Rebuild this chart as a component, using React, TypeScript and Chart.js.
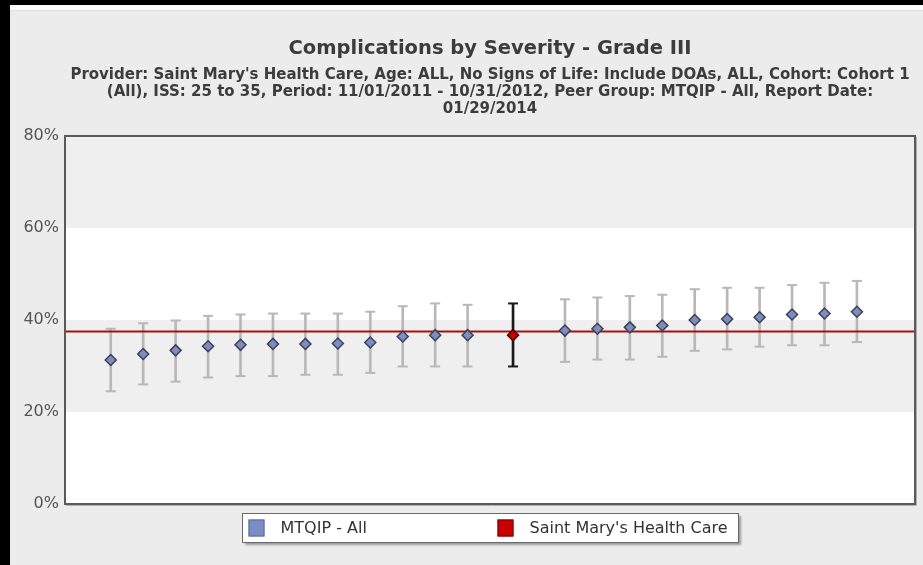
import React, { useEffect, useRef } from "react";
import { Chart, registerables } from "chart.js";

Chart.register(...registerables);

const chartTitle = "Complications by Severity - Grade III";
const subtitleLines = [
  "Provider: Saint Mary's Health Care, Age: ALL, No Signs of Life: Include DOAs, ALL, Cohort: Cohort 1",
  "(All), ISS: 25 to 35, Period: 11/01/2011 - 10/31/2012, Peer Group: MTQIP - All, Report Date:",
  "01/29/2014",
];
const peerLabel = "MTQIP - All";
const providerLabel = "Saint Mary's Health Care";

// rank positions of the peer hospitals (gap around the provider)
const peerRanks = [0, 1, 2, 3, 4, 5, 6, 7, 8, 9, 10, 11, 14, 15, 16, 17, 18, 19, 20, 21, 22, 23];
const peerRates = [31.3, 32.6, 33.4, 34.3, 34.6, 34.8, 34.8, 34.9, 35.1, 36.4, 36.7, 36.7, 37.7, 38.1, 38.4, 38.8, 40.0, 40.2, 40.6, 41.2, 41.4, 41.8];
const peerUpper = [38.1, 39.3, 39.9, 40.9, 41.2, 41.4, 41.4, 41.4, 41.8, 43.0, 43.6, 43.3, 44.5, 44.9, 45.2, 45.5, 46.7, 47.0, 47.0, 47.6, 48.1, 48.5];
const peerLower = [24.5, 26.0, 26.6, 27.5, 27.8, 27.8, 28.1, 28.1, 28.5, 29.9, 29.9, 29.9, 30.9, 31.4, 31.4, 32.0, 33.3, 33.6, 34.2, 34.5, 34.5, 35.2];

const providerRank = 12.4;
const providerRate = 36.7;
const providerUpper = 43.6;
const providerLower = 29.9;

const referenceRate = 37.5;

const rankMin = -1.41;
const rankMax = 24.79;
const yMin = 0;
const yMax = 80;
const yStep = 20;
const shadedBands = [
  [20, 40],
  [60, 80],
];

const PEER_FILL = "#7b8dc4";
const PROVIDER_FILL = "#c80000";

const backgroundPlugin = {
  id: "bandsAndFrame",
  beforeDraw(chart: any) {
    const { ctx, chartArea, scales } = chart;
    const y = scales.y;
    ctx.save();
    ctx.fillStyle = "#ffffff";
    ctx.fillRect(chartArea.left, chartArea.top, chartArea.right - chartArea.left, chartArea.bottom - chartArea.top);
    ctx.fillStyle = "#efefef";
    shadedBands.forEach(([a, b]) => {
      const y1 = y.getPixelForValue(b);
      const y2 = y.getPixelForValue(a);
      ctx.fillRect(chartArea.left, y1, chartArea.right - chartArea.left, y2 - y1);
    });
    ctx.restore();
  },
  afterDatasetsDraw(chart: any) {
    const { ctx, chartArea } = chart;
    ctx.save();
    ctx.strokeStyle = "#b0b0b0";
    ctx.lineWidth = 1;
    ctx.beginPath();
    ctx.moveTo(chartArea.right + 1.5, chartArea.top + 1);
    ctx.lineTo(chartArea.right + 1.5, chartArea.bottom + 1.5);
    ctx.lineTo(chartArea.left + 1, chartArea.bottom + 1.5);
    ctx.stroke();
    ctx.strokeStyle = "#5a5a5a";
    ctx.lineWidth = 2;
    ctx.strokeRect(chartArea.left, chartArea.top, chartArea.right - chartArea.left, chartArea.bottom - chartArea.top);
    ctx.restore();
  },
};

const legendPlugin = {
  id: "boxLegend",
  afterDraw(chart: any) {
    const { ctx, chartArea } = chart;
    const items = chart.data.datasets.filter((d: any) => d.legendItem);
    const cx = (chartArea.left + chartArea.right) / 2;
    const w = 496;
    const h = 29;
    const left = Math.round(cx - w / 2) + 0.5;
    const top = Math.round(chartArea.bottom + 9) + 0.5;
    ctx.save();
    ctx.shadowColor = "rgba(0,0,0,0.35)";
    ctx.shadowOffsetX = 2;
    ctx.shadowOffsetY = 2;
    ctx.shadowBlur = 2;
    ctx.fillStyle = "#ffffff";
    ctx.fillRect(left, top, w, h);
    ctx.shadowColor = "transparent";
    ctx.strokeStyle = "#6a6a6a";
    ctx.lineWidth = 1;
    ctx.strokeRect(left, top, w, h);
    const offsets = [6, 255];
    items.forEach((d: any, i: number) => {
      const bx = left + offsets[i];
      const by = top + 6;
      ctx.fillStyle = d.backgroundColor;
      ctx.fillRect(bx, by, 16, 17);
      ctx.strokeStyle = d.legendBorder;
      ctx.strokeRect(bx + 0.5, by + 0.5, 15, 16);
      ctx.fillStyle = "#333333";
      ctx.font = "16px 'DejaVu Sans', Verdana, sans-serif";
      ctx.textBaseline = "middle";
      ctx.textAlign = "left";
      ctx.fillText(d.label, bx + 32, top + h / 2 + 0.5);
    });
    ctx.restore();
  },
};

export default function App() {
  const canvasRef = useRef<HTMLCanvasElement | null>(null);

  useEffect(() => {
    const canvas = canvasRef.current;
    if (!canvas) return;

    const peerWhiskers = peerRanks.map((x, i) => ({ x, y: [peerLower[i], peerUpper[i]] }));
    const peerCaps = peerRanks.flatMap((x, i) => [
      { x, y: peerLower[i] },
      { x, y: peerUpper[i] },
    ]);
    const peerPoints = peerRanks.map((x, i) => ({ x, y: peerRates[i] }));

    const chart = new Chart(canvas, {
      type: "scatter",
      data: {
        datasets: [
          {
            type: "bar",
            label: "peer-range",
            data: peerWhiskers as any,
            backgroundColor: "#b8b8b8",
            borderWidth: 0,
            barThickness: 2,
            grouped: false,
            order: 4,
          } as any,
          {
            type: "bar",
            label: "provider-range",
            data: [{ x: providerRank, y: [providerLower, providerUpper] }] as any,
            backgroundColor: "#1a1a1a",
            borderWidth: 0,
            barThickness: 2,
            grouped: false,
            order: 4,
          } as any,
          {
            type: "scatter",
            label: "peer-caps",
            data: peerCaps,
            pointStyle: "line",
            pointRadius: 5,
            borderWidth: 2,
            borderColor: "#b8b8b8",
            order: 3,
          } as any,
          {
            type: "scatter",
            label: "provider-caps",
            data: [
              { x: providerRank, y: providerLower },
              { x: providerRank, y: providerUpper },
            ],
            pointStyle: "line",
            pointRadius: 5,
            borderWidth: 2,
            borderColor: "#1a1a1a",
            order: 3,
          } as any,
          {
            type: "line",
            label: "reference",
            data: [
              { x: rankMin, y: referenceRate },
              { x: rankMax, y: referenceRate },
            ],
            borderColor: "#a81010",
            borderWidth: 2,
            pointRadius: 0,
            order: 2,
          } as any,
          {
            type: "scatter",
            label: peerLabel,
            data: peerPoints,
            pointStyle: "rectRot",
            pointRadius: 5.5,
            backgroundColor: PEER_FILL,
            borderColor: "#3c4150",
            borderWidth: 1.5,
            order: 1,
            legendItem: true,
            legendBorder: "#5a6c9c",
          } as any,
          {
            type: "scatter",
            label: providerLabel,
            data: [{ x: providerRank, y: providerRate }],
            pointStyle: "rectRot",
            pointRadius: 5.5,
            backgroundColor: PROVIDER_FILL,
            borderColor: "#4a0000",
            borderWidth: 1.5,
            order: 0,
            legendItem: true,
            legendBorder: "#800000",
          } as any,
        ],
      },
      options: {
        responsive: false,
        maintainAspectRatio: false,
        animation: false,
        events: [],
        devicePixelRatio: 1,
        layout: { padding: { left: 0, right: 8, top: 0, bottom: 61 } },
        scales: {
          x: {
            type: "linear",
            min: rankMin,
            max: rankMax,
            offset: false,
            display: false,
          },
          y: {
            type: "linear",
            min: yMin,
            max: yMax,
            grid: { display: false, drawTicks: false },
            border: { display: false },
            ticks: {
              stepSize: yStep,
              padding: 6,
              color: "#555555",
              font: { family: "'DejaVu Sans', Verdana, sans-serif", size: 16 },
              callback: (v: any) => `${v}%`,
            },
            afterFit: (scale: any) => {
              scale.width = 55;
            },
          },
        },
        plugins: {
          legend: { display: false },
          tooltip: { enabled: false },
          title: {
            display: true,
            text: chartTitle,
            fullSize: false,
            color: "#3c3c3c",
            font: { family: "'DejaVu Sans', sans-serif", size: 19.5, weight: "bold", lineHeight: 1.2 },
            padding: { top: 27, bottom: 3 },
          },
          subtitle: {
            display: true,
            text: subtitleLines,
            fullSize: false,
            color: "#3c3c3c",
            font: { family: "'DejaVu Sans', sans-serif", size: 15, weight: "bold", lineHeight: 17 / 15 },
            padding: { top: 3.2, bottom: 18.4 },
          },
        },
      } as any,
      plugins: [backgroundPlugin, legendPlugin],
    });

    return () => chart.destroy();
  }, []);

  return (
    <div style={{ position: "fixed", left: 0, top: 0, width: 923, height: 565, background: "#000", overflow: "hidden" }}>
      <div
        style={{
          position: "absolute",
          left: 10,
          top: 5,
          width: 913,
          height: 560,
          background: "#ececec",
          borderTop: "5px solid #ffffff",
          boxSizing: "border-box",
        }}
      >
        <div style={{ height: 1, background: "#dedede" }} />
      </div>
      <canvas ref={canvasRef} width={913} height={555} style={{ position: "absolute", left: 10, top: 10 }} />
    </div>
  );
}
